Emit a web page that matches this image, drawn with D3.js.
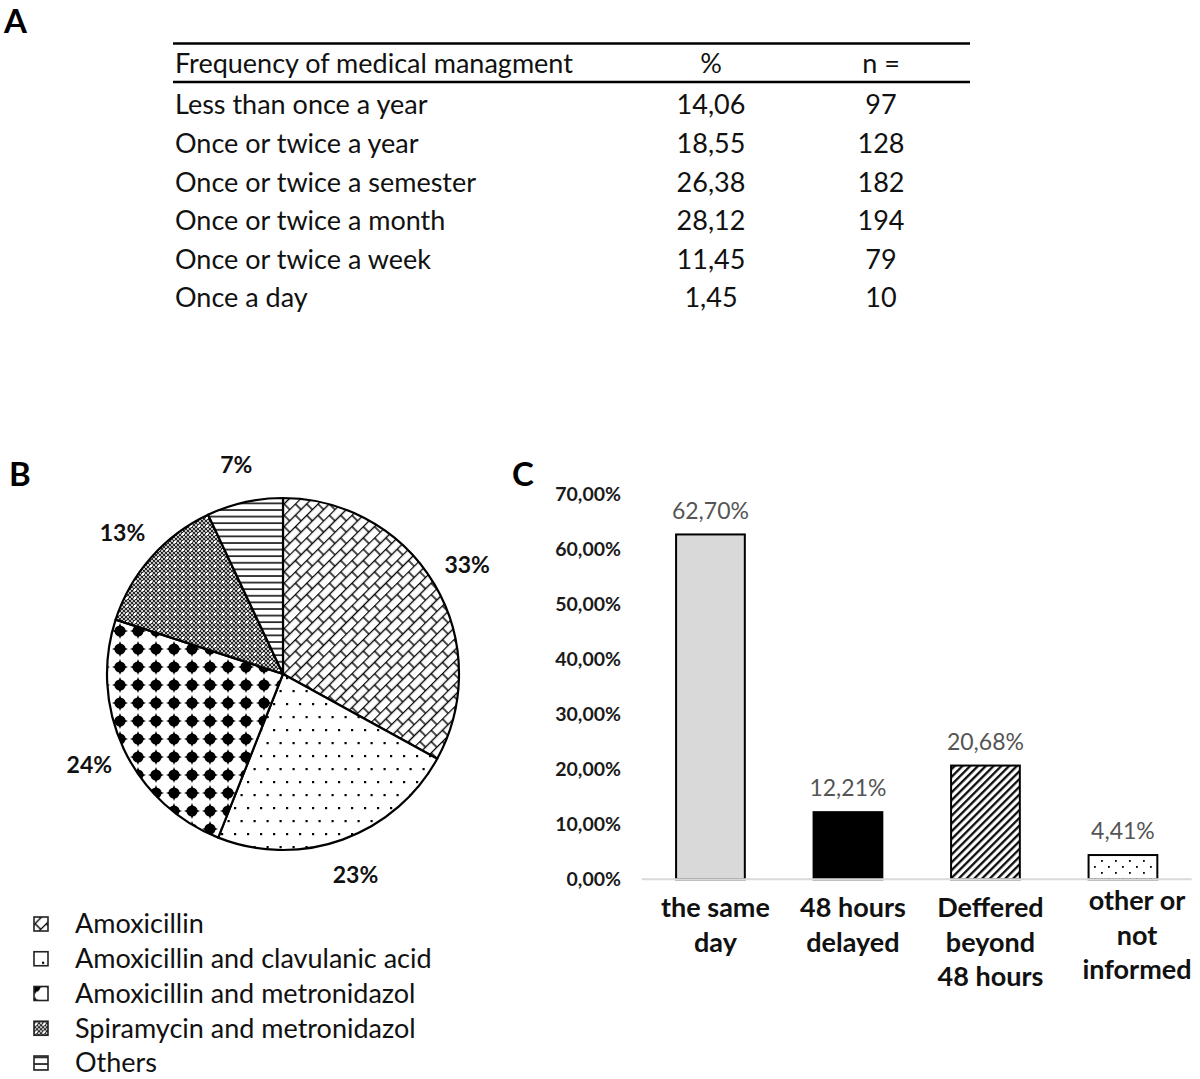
<!DOCTYPE html>
<html><head><meta charset="utf-8">
<script src="https://cdn.jsdelivr.net/npm/d3@7"></script>
<style>body{margin:0;background:#fff} svg{display:block}</style>
</head><body>
<script>
// ---------- DATA ----------
const tableHeader = ["Frequency of medical managment", "%", "n ="];
const freqLabels = ["Less than once a year", "Once or twice a year", "Once or twice a semester",
  "Once or twice a month", "Once or twice a week", "Once a day"];
const freqPct = ["14,06", "18,55", "26,38", "28,12", "11,45", "1,45"];
const freqN = [97, 128, 182, 194, 79, 10];

const drugs = ["Amoxicillin", "Amoxicillin and clavulanic acid", "Amoxicillin and metronidazol",
  "Spiramycin and metronidazol", "Others"];
const drugShares = [33, 23, 24, 13, 7];
const drugPatterns = ["pBrick", "pDots", "pStars", "pGrid", "pHLines"];

const timingLabels = [["the same", "day"], ["48 hours", "delayed"], ["Deffered", "beyond", "48 hours"], ["other or", "not", "informed"]];
const timingValues = [62.70, 12.21, 20.68, 4.41];
const timingPatterns = ["#d9d9d9", "#000000", "url(#pDiag)", "url(#pSmallDots)"];
const yTicks = [0, 10, 20, 30, 40, 50, 60, 70];

// ---------- SETUP ----------
const W = 1200, H = 1079;
const FONT = "Lato, 'Open Sans', sans-serif";
const svg = d3.select("body").append("svg").attr("width", W).attr("height", H)
  .style("font-family", FONT);
const locale = d3.formatLocale({decimal: ",", thousands: ".", grouping: [3], currency: ["", ""]});
const fmt2 = locale.format(".2f");
const pctFmt = v => fmt2(v) + "%";

// ---------- PATTERNS ----------
const defs = svg.append("defs");
// diagonal brick
{
  const p = defs.append("pattern").attr("id", "pBrick").attr("patternUnits", "userSpaceOnUse")
    .attr("width", 16).attr("height", 16).attr("patternTransform", "rotate(-45)");
  p.append("rect").attr("width", 16).attr("height", 16).attr("fill", "#fff");
  const g = p.append("g").attr("stroke", "#000").attr("stroke-width", 1.4).attr("fill", "none");
  g.append("line").attr("x1", 0).attr("x2", 16).attr("y1", 0.5).attr("y2", 0.5);
  g.append("line").attr("x1", 0).attr("x2", 16).attr("y1", 8.5).attr("y2", 8.5);
  g.append("line").attr("x1", 1).attr("x2", 1).attr("y1", 0.5).attr("y2", 8.5);
  g.append("line").attr("x1", 9).attr("x2", 9).attr("y1", 8.5).attr("y2", 16.5);
}
// sparse staggered dots
{
  const p = defs.append("pattern").attr("id", "pDots").attr("patternUnits", "userSpaceOnUse")
    .attr("width", 26).attr("height", 26);
  p.append("rect").attr("width", 26).attr("height", 26).attr("fill", "#fff");
  [[3, 3], [16, 3], [9.5, 16], [22.5, 16]].forEach(([x, y]) =>
    p.append("rect").attr("x", x).attr("y", y).attr("width", 2.2).attr("height", 2.2).attr("fill", "#000"));
}
// black 4-point blobs
{
  const s = 18;
  const p = defs.append("pattern").attr("id", "pStars").attr("patternUnits", "userSpaceOnUse")
    .attr("width", s).attr("height", s).attr("x", 278).attr("y", 668);
  p.append("rect").attr("width", s).attr("height", s).attr("fill", "#fff");
  const c = s / 2;
  p.append("circle").attr("cx", c).attr("cy", c).attr("r", 5.6).attr("fill", "#000");
  p.append("path").attr("d", `M${c},${c - 8}L${c + 3},${c}L${c},${c + 8}L${c - 3},${c}Z M${c - 8},${c}L${c},${c - 3}L${c + 8},${c}L${c},${c + 3}Z`)
    .attr("fill", "#000");
}
// dense grid with white dots
{
  const p = defs.append("pattern").attr("id", "pGrid").attr("patternUnits", "userSpaceOnUse")
    .attr("width", 8).attr("height", 8);
  p.append("rect").attr("width", 8).attr("height", 8).attr("fill", "#fff");
  for (let i = 0; i < 4; i++) for (let j = 0; j < 4; j++)
    if ((i + j) % 2 === 0) p.append("rect").attr("x", i * 2).attr("y", j * 2).attr("width", 2).attr("height", 2).attr("fill", "#111");
  p.append("rect").attr("width", 8).attr("height", 8).attr("fill", "#555").attr("opacity", 0.35);
  p.append("rect").attr("x", 3).attr("y", 3).attr("width", 2).attr("height", 2).attr("fill", "#fff");
}
// horizontal lines
{
  const p = defs.append("pattern").attr("id", "pHLines").attr("patternUnits", "userSpaceOnUse")
    .attr("width", 10).attr("height", 6.6);
  p.append("rect").attr("width", 10).attr("height", 6.6).attr("fill", "#fff");
  p.append("line").attr("x1", 0).attr("x2", 10).attr("y1", 1).attr("y2", 1).attr("stroke", "#000").attr("stroke-width", 1.5);
}
// diagonal stripes for bar
{
  const p = defs.append("pattern").attr("id", "pDiag").attr("patternUnits", "userSpaceOnUse")
    .attr("width", 5.5).attr("height", 5.5).attr("patternTransform", "rotate(45)");
  p.append("rect").attr("width", 5.5).attr("height", 5.5).attr("fill", "#fff");
  p.append("line").attr("x1", 1.2).attr("x2", 1.2).attr("y1", 0).attr("y2", 5.5).attr("stroke", "#000").attr("stroke-width", 2.2);
}
// small dots for bar
{
  const p = defs.append("pattern").attr("id", "pSmallDots").attr("patternUnits", "userSpaceOnUse")
    .attr("width", 14).attr("height", 12);
  p.append("rect").attr("width", 14).attr("height", 12).attr("fill", "#fff");
  [[2, 2], [9, 8]].forEach(([x, y]) =>
    p.append("rect").attr("x", x).attr("y", y).attr("width", 1.8).attr("height", 1.8).attr("fill", "#000"));
}

// ---------- PANEL LETTERS ----------
const letters = [["A", 4, 33], ["B", 9, 486], ["C", 512, 486]];
svg.selectAll("text.panel").data(letters).join("text").attr("class", "panel")
  .attr("x", d => d[1]).attr("y", d => d[2]).text(d => d[0])
  .attr("font-size", 33).attr("font-weight", 700).attr("fill", "#000");

// ---------- TABLE (A) ----------
const colX = [175, 711, 881];
const colAnchor = ["start", "middle", "middle"];
const tbl = svg.append("g").attr("fill", "#111").attr("font-size", 27);
tbl.append("line").attr("x1", 173).attr("x2", 970).attr("y1", 43.5).attr("y2", 43.5).attr("stroke", "#000").attr("stroke-width", 2.5);
tbl.append("line").attr("x1", 173).attr("x2", 970).attr("y1", 82).attr("y2", 82).attr("stroke", "#000").attr("stroke-width", 2.5);
tbl.selectAll("text.h").data(tableHeader).join("text").attr("class", "h")
  .attr("x", (d, i) => colX[i]).attr("y", 64).attr("dy", "0.35em")
  .attr("text-anchor", (d, i) => colAnchor[i]).text(d => d);
const rowY = d3.scalePoint().domain(freqLabels).range([105, 298]);
const rows = tbl.selectAll("g.row").data(freqLabels).join("g").attr("class", "row")
  .attr("transform", d => `translate(0,${rowY(d)})`);
rows.append("text").attr("x", colX[0]).attr("dy", "0.35em").text(d => d);
rows.append("text").attr("x", colX[1]).attr("dy", "0.35em").attr("text-anchor", "middle").text((d, i) => freqPct[i]);
rows.append("text").attr("x", colX[2]).attr("dy", "0.35em").attr("text-anchor", "middle").text((d, i) => freqN[i]);

// ---------- PIE (B) ----------
const cx = 283, cy = 674, R = 176;
const pie = d3.pie().sort(null).value(d => d)(drugShares);
const arc = d3.arc().innerRadius(0).outerRadius(R);
const labelArc = d3.arc().innerRadius(214).outerRadius(214);
const pg = svg.append("g").attr("transform", `translate(${cx},${cy})`);
pg.selectAll("path").data(pie).join("path").attr("d", arc)
  .attr("fill", (d, i) => `url(#${drugPatterns[i]})`).attr("stroke", "#000").attr("stroke-width", 2.2)
  .attr("stroke-linejoin", "round");
pg.selectAll("text").data(pie).join("text")
  .attr("transform", d => `translate(${labelArc.centroid(d)})`).attr("dy", "0.35em")
  .attr("text-anchor", "middle").attr("font-size", 23).attr("font-weight", 700).attr("fill", "#111")
  .text(d => d.data + "%");

// legend
const ly = d3.scalePoint().domain(drugs).range([924, 1063]);
const lg = svg.append("g");
const li = lg.selectAll("g").data(drugs).join("g").attr("transform", d => `translate(0,${ly(d)})`);
li.append("rect").attr("x", 34).attr("y", -7).attr("width", 14).attr("height", 14)
  .attr("fill", (d, i) => `url(#${drugPatterns[i]})`).attr("stroke", "#222").attr("stroke-width", 1.6);
li.append("text").attr("x", 75).attr("dy", "0.35em").attr("font-size", 27).attr("fill", "#111").text(d => d);

// ---------- BAR CHART (C) ----------
const x = d3.scaleBand().domain(d3.range(timingValues.length)).range([641.7, 1191.7])
  .paddingInner(0.5).paddingOuter(0.25);
const y = d3.scaleLinear().domain([0, 70]).range([879.3, 494.3]);
const bc = svg.append("g");
const yAxis = d3.axisLeft(y).tickValues(yTicks).tickSize(0).tickPadding(0).tickFormat(pctFmt);
bc.append("g").attr("transform", "translate(621,0)").call(yAxis)
  .call(g => g.select(".domain").remove())
  .call(g => g.selectAll("text").attr("font-family", FONT).attr("font-size", 19.5).attr("font-weight", 700).attr("fill", "#1a1a1a"));
bc.selectAll("rect.bar").data(timingValues).join("rect").attr("class", "bar")
  .attr("x", (d, i) => x(i)).attr("width", x.bandwidth())
  .attr("y", d => y(d)).attr("height", d => y(0) - y(d))
  .attr("fill", (d, i) => timingPatterns[i]).attr("stroke", "#000").attr("stroke-width", 2);
bc.append("line").attr("x1", 641.7).attr("x2", 1191.7).attr("y1", y(0)).attr("y2", y(0))
  .attr("stroke", "#d9d9d9").attr("stroke-width", 2);
bc.selectAll("text.val").data(timingValues).join("text").attr("class", "val")
  .attr("x", (d, i) => x(i) + x.bandwidth() / 2).attr("y", d => y(d) - 24).attr("dy", "0.35em")
  .attr("text-anchor", "middle").attr("font-size", 23).attr("fill", "#555").text(pctFmt);
const last = timingLabels.length - 1;
const cat = bc.selectAll("text.cat").data(timingLabels).join("text").attr("class", "cat")
  .attr("text-anchor", "middle").attr("font-size", 27).attr("font-weight", 700).attr("fill", "#111")
  .attr("transform", (d, i) => `translate(${x(i) + x.bandwidth() / 2 + (i === last ? 14 : 5)},${i === last ? 901 : 908})`);
cat.selectAll("tspan").data(d => d).join("tspan").attr("x", 0)
  .attr("y", (d, j) => j * 34.5).attr("dy", "0.35em").text(d => d);
</script>
</body></html>
